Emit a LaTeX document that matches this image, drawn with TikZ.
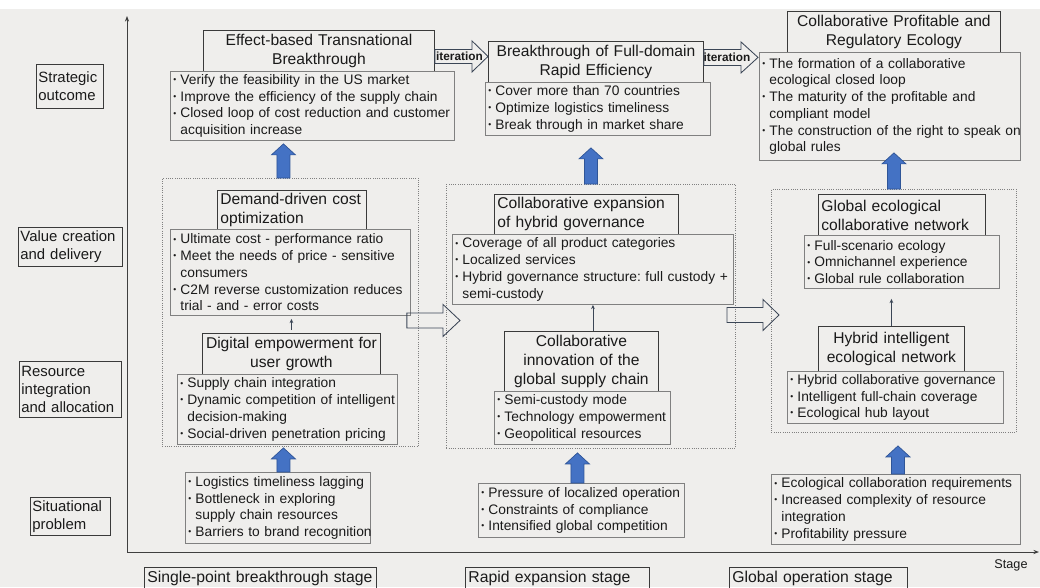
\documentclass[tikz,border=0pt]{standalone}
\usepackage{fontspec}
\setmainfont{Liberation Sans}
\usetikzlibrary{calc,arrows.meta}
\frenchspacing

\definecolor{bgcol}{HTML}{EFEEEC}
\definecolor{boxline}{HTML}{808080}
\definecolor{headline}{HTML}{3A3A3A}
\definecolor{bluefill}{HTML}{4472C4}
\definecolor{blueline}{HTML}{2F5597}
\definecolor{slate}{HTML}{3B4656}
\definecolor{axiscol}{HTML}{3F3F3F}
\definecolor{txt}{HTML}{1A1A1A}

\newcommand\bitem[1]{\mbox{\makebox[5pt][l]{\raisebox{0.25ex}{\fontsize{6pt}{6pt}\selectfont\textbullet}}#1}}
\newcommand\bcont[1]{\mbox{\hspace*{5pt}#1}}

\newcommand\blockup[6]{\filldraw[#1] ($(#2)+(-#4,0)$) -- ($(#2 |- #3)+(-#4,#6)$) -- ($(#2 |- #3)+(-#5,#6)$) -- (#2 |- #3) -- ($(#2 |- #3)+(#5,#6)$) -- ($(#2 |- #3)+(#4,#6)$) -- ($(#2)+(#4,0)$) -- cycle;}
\newcommand\blockright[6]{\draw[#1] ($(#2)+(0,-#4)$) -- ($(#2 -| #3)+(-#6,-#4)$) -- ($(#2 -| #3)+(-#6,-#5)$) -- (#2 -| #3) -- ($(#2 -| #3)+(-#6,#5)$) -- ($(#2 -| #3)+(-#6,#4)$) -- ($(#2)+(0,#4)$) -- cycle;}

\tikzset{
  headbox/.style={draw=headline, line width=0.6pt, anchor=north west, inner xsep=0.075cm, inner ysep=0pt, text=txt, font=\fontsize{11.1pt}{13.5pt}\selectfont},
  bulbox/.style={draw=boxline, line width=0.6pt, anchor=north west, inner xsep=0.075cm, inner ysep=0pt, align=left, text=txt, font=\fontsize{9.8pt}{11.9pt}\selectfont},
  rowlab/.style={draw=headline, line width=0.6pt, anchor=north west, inner xsep=0.05cm, inner ysep=0pt, align=left, text=txt, font=\fontsize{10.6pt}{12.8pt}\selectfont},
  stagelab/.style={draw=headline, line width=0.6pt, anchor=north west, inner xsep=0.075cm, inner ysep=0pt, align=left, text=txt, minimum height=0.55cm, font=\fontsize{11.2pt}{13pt}\selectfont},
  groupbox/.style={draw=boxline, densely dotted, line width=0.6pt, anchor=north west, inner sep=0pt},
  bluearr/.style={fill=bluefill, draw=blueline, line width=0.5pt},
  hollowarr/.style={draw=slate, line width=0.6pt, line join=miter},
  thinarr/.style={draw=slate, line width=0.5pt, -{Stealth[length=3pt,width=2.6pt]}},
  iterlab/.style={inner sep=0pt, text=txt, font=\bfseries\fontsize{8.4pt}{9pt}\selectfont},
  axisline/.style={draw=axiscol, line width=0.7pt, -{Stealth[length=4pt,width=3pt]}}
}

\begin{document}
\begin{tikzpicture}[x=0.025cm, y=-0.025cm]
\useasboundingbox (0,0) rectangle (1040,587);
\fill [bgcol] (0,0) rectangle (1040,587);
\fill [white] (0,0) rectangle (1040,9);

\coordinate (origin) at (127,552);
\coordinate (ytop) at (127,16);
\coordinate (xend) at (1039,552);
\draw [axisline] (origin) -- (ytop);
\draw [axisline] (origin) -- (xend);
\node [text=txt, font=\fontsize{9pt}{10pt}\selectfont] (stage) at (1011,565) {Stage};

\node [rowlab, text width=1.575cm, minimum height=1.1cm] (lab1) at (36,64) {Strategic\\outcome};
\node [rowlab, text width=2.5cm, minimum height=0.975cm] (lab2) at (18,227) {Value creation\\and delivery};
\node [rowlab, text width=2.45cm, minimum height=1.4cm] (lab3) at (19,361) {Resource\\integration\\and allocation};
\node [rowlab, text width=1.9cm, minimum height=0.95cm] (lab4) at (30,497) {Situational\\problem};

\node [stagelab, text width=5.65cm] (st1) at (144,567) {Single-point breakthrough stage};
\node [stagelab, text width=4.45cm] (st2) at (465,567) {Rapid expansion stage};
\node [stagelab, text width=4.3cm] (st3) at (729,567) {Global operation stage};

\node [groupbox, minimum width=6.4cm, minimum height=6.7cm] (c1) at (162,178) {};
\node [groupbox, minimum width=7.225cm, minimum height=6.6cm] (c2) at (446,184) {};
\node [groupbox, minimum width=6.125cm, minimum height=6.075cm] (c3) at (771,189) {};

\node [headbox, align=center, text width=5.625cm, minimum height=1.025cm] (t1) at (203,30) {Effect-based Transnational\\Breakthrough};
\node [bulbox, text width=6.95cm, minimum height=1.725cm] (b1) at (170,71) {\bitem{Verify the feasibility in the US market}\\\bitem{Improve the efficiency of the supply chain}\\\bitem{Closed loop of cost reduction and customer}\\\bcont{acquisition increase}};
\node [headbox, align=left, text width=3.575cm, minimum height=0.975cm] (t1a) at (217,190) {Demand-driven cost\\optimization};
\node [bulbox, text width=5.85cm, minimum height=2.15cm] (b1a) at (170,229) {\bitem{Ultimate cost - performance ratio}\\\bitem{Meet the needs of price - sensitive}\\\bcont{consumers}\\\bitem{C2M reverse customization reduces}\\\bcont{trial - and - error costs}};
\node [headbox, align=center, text width=4.3cm, minimum height=1.025cm] (t1b) at (202,333) {Digital empowerment for\\user growth};
\node [bulbox, text width=5.35cm, minimum height=1.75cm] (b1b) at (177,374) {\bitem{Supply chain integration}\\\bitem{Dynamic competition of intelligent}\\\bcont{decision-making}\\\bitem{Social-driven penetration pricing}};
\node [bulbox, text width=4.475cm, minimum height=1.775cm] (p1) at (185,472) {\bitem{Logistics timeliness lagging}\\\bitem{Bottleneck in exploring}\\\bcont{supply chain resources}\\\bitem{Barriers to brand recognition}};

\node [headbox, align=center, text width=5.225cm, minimum height=1.025cm] (t2) at (488,41) {Breakthrough of Full-domain\\Rapid Efficiency};
\node [bulbox, text width=5.475cm, minimum height=1.325cm] (b2) at (485,82) {\bitem{Cover more than 70 countries}\\\bitem{Optimize logistics timeliness}\\\bitem{Break through in market share}};
\node [headbox, align=left, text width=4.45cm, minimum height=1.0cm] (t2a) at (494,194) {Collaborative expansion\\of hybrid governance};
\node [bulbox, text width=6.875cm, minimum height=1.75cm] (b2a) at (452,234) {\bitem{Coverage of all product categories}\\\bitem{Localized services}\\\bitem{Hybrid governance structure: full custody +}\\\bcont{semi-custody}};
\node [headbox, align=center, text width=3.7cm, minimum height=1.5cm] (t2b) at (504,331) {Collaborative\\innovation of the\\global supply chain};
\node [bulbox, text width=4.25cm, minimum height=1.325cm] (b2b) at (494,391) {\bitem{Semi-custody mode}\\\bitem{Technology empowerment}\\\bitem{Geopolitical resources}};
\node [bulbox, text width=5.0cm, minimum height=1.35cm] (p2) at (478,483) {\bitem{Pressure of localized operation}\\\bitem{Constraints of compliance}\\\bitem{Intensified global competition}};

\node [headbox, align=center, text width=5.175cm, minimum height=1.025cm] (t3) at (787,11) {Collaborative Profitable and\\Regulatory Ecology};
\node [bulbox, text width=6.375cm, minimum height=2.7cm] (b3) at (759,52) {\bitem{The formation of a collaborative}\\\bcont{ecological closed loop}\\\bitem{The maturity of the profitable and}\\\bcont{compliant model}\\\bitem{The construction of the right to speak on}\\\bcont{global rules}};
\node [headbox, align=left, text width=4.025cm, minimum height=1.025cm] (t3a) at (818,194) {Global ecological\\collaborative network};
\node [bulbox, text width=4.725cm, minimum height=1.325cm] (b3a) at (804,235) {\bitem{Full-scenario ecology}\\\bitem{Omnichannel experience}\\\bitem{Global rule collaboration}};
\node [headbox, align=center, text width=3.5cm, minimum height=1.125cm] (t3b) at (818,326) {Hybrid intelligent\\ecological network};
\node [bulbox, text width=5.25cm, minimum height=1.3cm] (b3b) at (787,371) {\bitem{Hybrid collaborative governance}\\\bitem{Intelligent full-chain coverage}\\\bitem{Ecological hub layout}};
\node [bulbox, text width=6.075cm, minimum height=1.75cm] (p3) at (771,474) {\bitem{Ecological collaboration requirements}\\\bitem{Increased complexity of resource}\\\bcont{integration}\\\bitem{Profitability pressure}};

\coordinate (i1s) at ($(t1.east)+(0,5.5)$);
\coordinate (i1e) at (t2.west);
\coordinate (i2s) at ($(t2.east)+(0,-4.5)$);
\coordinate (i2e) at ($(b3.west)+(-1,0)$);
\blockright{hollowarr}{i1s}{i1e}{7}{15.5}{16}
\blockright{hollowarr}{i2s}{i2e}{8}{15.5}{17}
\node [iterlab] (it1) at ($(i1s)!0.5!(i1s -| i1e)+(-2,0)$) {iteration};
\node [iterlab] (it2) at ($(i2s)!0.5!(i2s -| i2e)+(-4,0)$) {iteration};

\coordinate (h1s) at ($(c1.east)+(-12,8)$);
\coordinate (h1e) at ($(c2.west)+(14,0)$);
\coordinate (h2s) at ($(c2.east)+(-9,-1.5)$);
\coordinate (h2e) at ($(c3.west)+(8,0)$);
\blockright{hollowarr}{h1s}{h1e}{7.5}{16}{17}
\blockright{hollowarr}{h2s}{h2e}{7.5}{15.5}{16}

\coordinate (a1s) at ($(c1.north)+(-7,0)$);
\coordinate (a1e) at ($(b1.south)+(0,3)$);
\coordinate (a2s) at ($(p1.north)+(5.5,0)$);
\coordinate (a2e) at ($(c1.south)+(0,1)$);
\coordinate (a3s) at (c2.north);
\coordinate (a3e) at ($(b2.south)+(0,12)$);
\coordinate (a4s) at ($(p2.north)+(-4,0)$);
\coordinate (a4e) at ($(c2.south)+(0,4)$);
\coordinate (a5s) at (c3.north);
\coordinate (a5e) at ($(b3.south)+(0,-8)$);
\coordinate (a6s) at ($(p3.north)+(2,0)$);
\coordinate (a6e) at ($(c3.south)+(0,13)$);
\blockup{bluearr}{a1s}{a1e}{6.5}{12}{11}
\blockup{bluearr}{a2s}{a2e}{6.5}{12}{11}
\blockup{bluearr}{a3s}{a3e}{6.5}{12}{11}
\blockup{bluearr}{a4s}{a4e}{6.5}{12}{11}
\blockup{bluearr}{a5s}{a5e}{6.5}{12}{11}
\blockup{bluearr}{a6s}{a6e}{6.5}{12}{11}

\draw [thinarr] ($(t1b.north)+(0,-3)$) -- ($(t1b.north |- b1a.south)+(0,3)$);
\draw [thinarr] (t2b.north -| b2a.south) -- (b2a.south);
\draw [thinarr] (t3b.north) -- ($(t3b.north |- b3a.south)+(0,10)$);
\end{tikzpicture}
\end{document}
